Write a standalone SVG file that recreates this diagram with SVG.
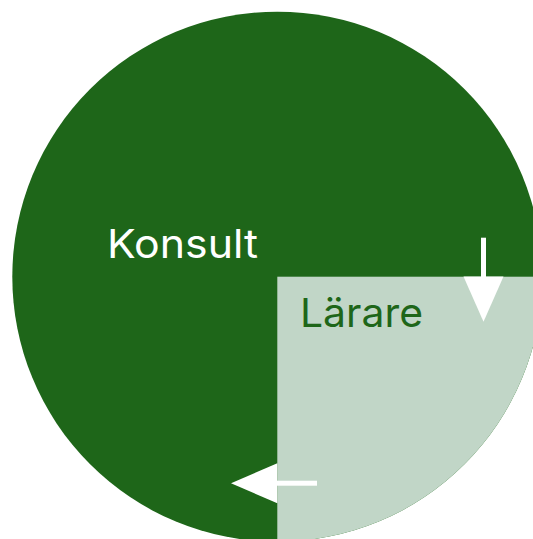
<svg xmlns="http://www.w3.org/2000/svg" width="533" height="539" viewBox="0 0 533 539">
<defs>
<style>
.lbl{font-family:"Inter","Liberation Sans",sans-serif;font-size:40px}
.arrow{fill:#ffffff}
</style>
<clipPath id="circ"><circle cx="277.3" cy="276.7" r="265"/></clipPath>
</defs>
<rect width="533" height="539" fill="#ffffff"/>
<g id="konsult">
<circle cx="277.3" cy="276.7" r="265" fill="#1e6619"/>
<text class="lbl" x="107" y="257.7" fill="#ffffff" textLength="151" lengthAdjust="spacingAndGlyphs">Konsult</text>
</g>
<g id="larare">
<rect x="277.3" y="276.7" width="300" height="300" fill="#c1d6c7" clip-path="url(#circ)"/>
<text class="lbl" x="300" y="326.7" fill="#1e6619" textLength="123" lengthAdjust="spacingAndGlyphs">Lärare</text>
</g>
<g id="connectors">
<rect class="arrow" x="481" y="237.7" width="5" height="40"/>
<polygon class="arrow" points="463.5,276.5 503.5,276.5 483.5,321.7"/>
<rect class="arrow" x="276" y="480.7" width="41" height="5"/>
<polygon class="arrow" points="277.3,463.3 277.3,503.3 231,483.2"/>
</g>
</svg>
